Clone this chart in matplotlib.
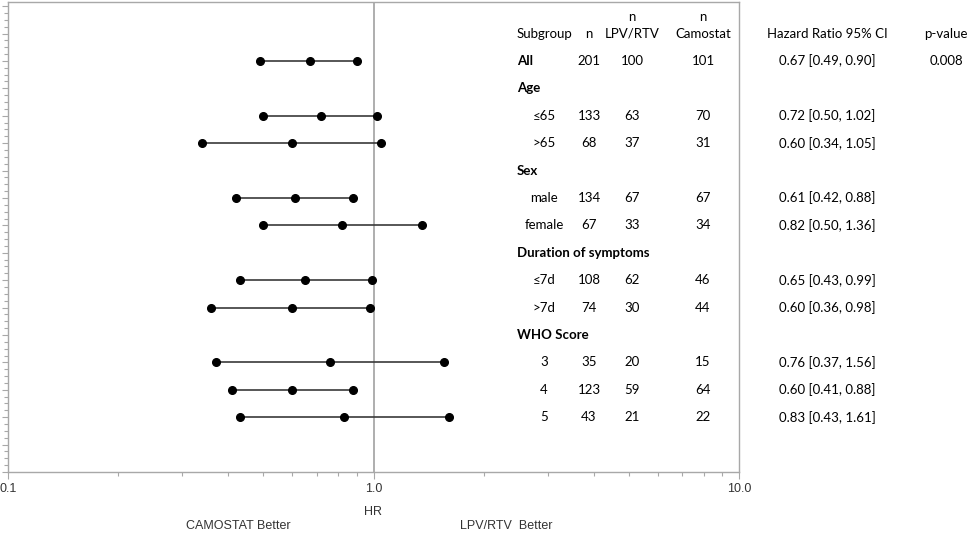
import numpy as np
import matplotlib
matplotlib.use("Agg")
import matplotlib.pyplot as plt
from matplotlib.ticker import FixedLocator, NullFormatter, MultipleLocator
from matplotlib.transforms import blended_transform_factory

# ---- data ----
labels = ["All", "Age", "≤65", ">65", "Sex", "male", "female",
          "Duration of symptoms", "≤7d", ">7d", "WHO Score", "3", "4", "5"]
is_header = [True, True, False, False, True, False, False,
             True, False, False, True, False, False, False]
n_total = ["201", "", "133", "68", "", "134", "67", "", "108", "74", "", "35", "123", "43"]
n_lpv = ["100", "", "63", "37", "", "67", "33", "", "62", "30", "", "20", "59", "21"]
n_cam = ["101", "", "70", "31", "", "67", "34", "", "46", "44", "", "15", "64", "22"]
hr = [0.67, np.nan, 0.72, 0.60, np.nan, 0.61, 0.82, np.nan, 0.65, 0.60, np.nan, 0.76, 0.60, 0.83]
lo = [0.49, np.nan, 0.50, 0.34, np.nan, 0.42, 0.50, np.nan, 0.43, 0.36, np.nan, 0.37, 0.41, 0.43]
hi = [0.90, np.nan, 1.02, 1.05, np.nan, 0.88, 1.36, np.nan, 0.99, 0.98, np.nan, 1.56, 0.88, 1.61]
pvals = ["0.008", "", "", "", "", "", "", "", "", "", "", "", "", ""]
xtick_vals = [0.1, 1.0, 10.0]
xtick_labels = ["0.1", "1.0", "10.0"]

W, H = 969, 533
fig = plt.figure(figsize=(W / 100, H / 100), dpi=100)
ax = fig.add_axes([8 / W, 1 - 472 / H, 731 / W, 470 / H])

tab_font = ["Lato", "DejaVu Sans"]
ax_font = ["Liberation Sans", "DejaVu Sans"]
gray = "#a8a8a8"

rows = np.arange(1, len(labels) + 1)

ax.axvline(1.0, color=gray, lw=1.3, zorder=1)
for y, h, l, u in zip(rows, hr, lo, hi):
    if np.isnan(h):
        continue
    ax.plot([l, u], [y, y], color="#3a3a3a", lw=1.2, zorder=2)
    ax.plot([l, h, u], [y, y, y], "o", color="black", ms=5.5, zorder=3)

ax.set_xscale("log")
ax.set_xlim(0.1, 10.0)
ax.set_ylim(16.0, -1.15)
ax.xaxis.set_major_locator(FixedLocator(xtick_vals))
ax.set_xticklabels(xtick_labels, fontfamily=ax_font, fontsize=9, color="#333333")
ax.xaxis.set_minor_formatter(NullFormatter())
ax.yaxis.set_major_locator(MultipleLocator(1))
ax.yaxis.set_minor_locator(MultipleLocator(0.25))
ax.set_yticklabels([])
ax.tick_params(axis="x", which="major", length=5, width=0.8, color=gray, pad=3)
ax.tick_params(axis="x", which="minor", length=3, width=0.8, color=gray)
ax.tick_params(axis="y", which="major", length=4, width=0.8, color=gray)
ax.tick_params(axis="y", which="minor", length=3, width=0.8, color=gray)
for s in ax.spines.values():
    s.set_color(gray)
    s.set_linewidth(1.0)

# ---- table ----
tr = blended_transform_factory(fig.transFigure, ax.transData)
fs = 9.5
col_sub_left = 517 / W
col_sub_c = 544 / W
col_n = 589 / W
col_lpv = 632 / W
col_cam = 703 / W
col_hr = 827 / W
col_p = 946 / W

def t(x, y, s, ha="center", bold=False):
    ax.text(x, y, s, transform=tr, ha=ha, va="center", fontsize=fs,
            fontfamily=tab_font, fontweight="bold" if bold else "normal",
            color="black", clip_on=False)

hy = 0
t(col_sub_left, hy, "Subgroup", ha="left")
t(col_n, hy, "n")
t(col_lpv, hy - 0.62, "n")
t(col_lpv, hy, "LPV/RTV")
t(col_cam, hy - 0.62, "n")
t(col_cam, hy, "Camostat")
t(col_hr, hy, "Hazard Ratio 95% CI")
t(col_p, hy, "p-value")

for y, lab, hd, a, b, c, h, l, u, p in zip(rows, labels, is_header, n_total, n_lpv,
                                          n_cam, hr, lo, hi, pvals):
    if hd:
        t(col_sub_left, y, lab, ha="left", bold=True)
    else:
        t(col_sub_c, y, lab)
    t(col_n, y, a)
    t(col_lpv, y, b)
    t(col_cam, y, c)
    if not np.isnan(h):
        t(col_hr, y, f"{h:.2f} [{l:.2f}, {u:.2f}]")
    t(col_p, y, p)

# ---- axis labels ----
fig.text(373 / W, 1 - 512 / H, "HR", ha="center", va="center",
         fontfamily=ax_font, fontsize=9, color="#333333")
fig.text(238 / W, 1 - 526 / H, "CAMOSTAT Better", ha="center", va="center",
         fontfamily=ax_font, fontsize=9, color="#333333")
fig.text(506 / W, 1 - 526 / H, "LPV/RTV  Better", ha="center", va="center",
         fontfamily=ax_font, fontsize=9, color="#333333")

fig.savefig("out.png", dpi=100)
